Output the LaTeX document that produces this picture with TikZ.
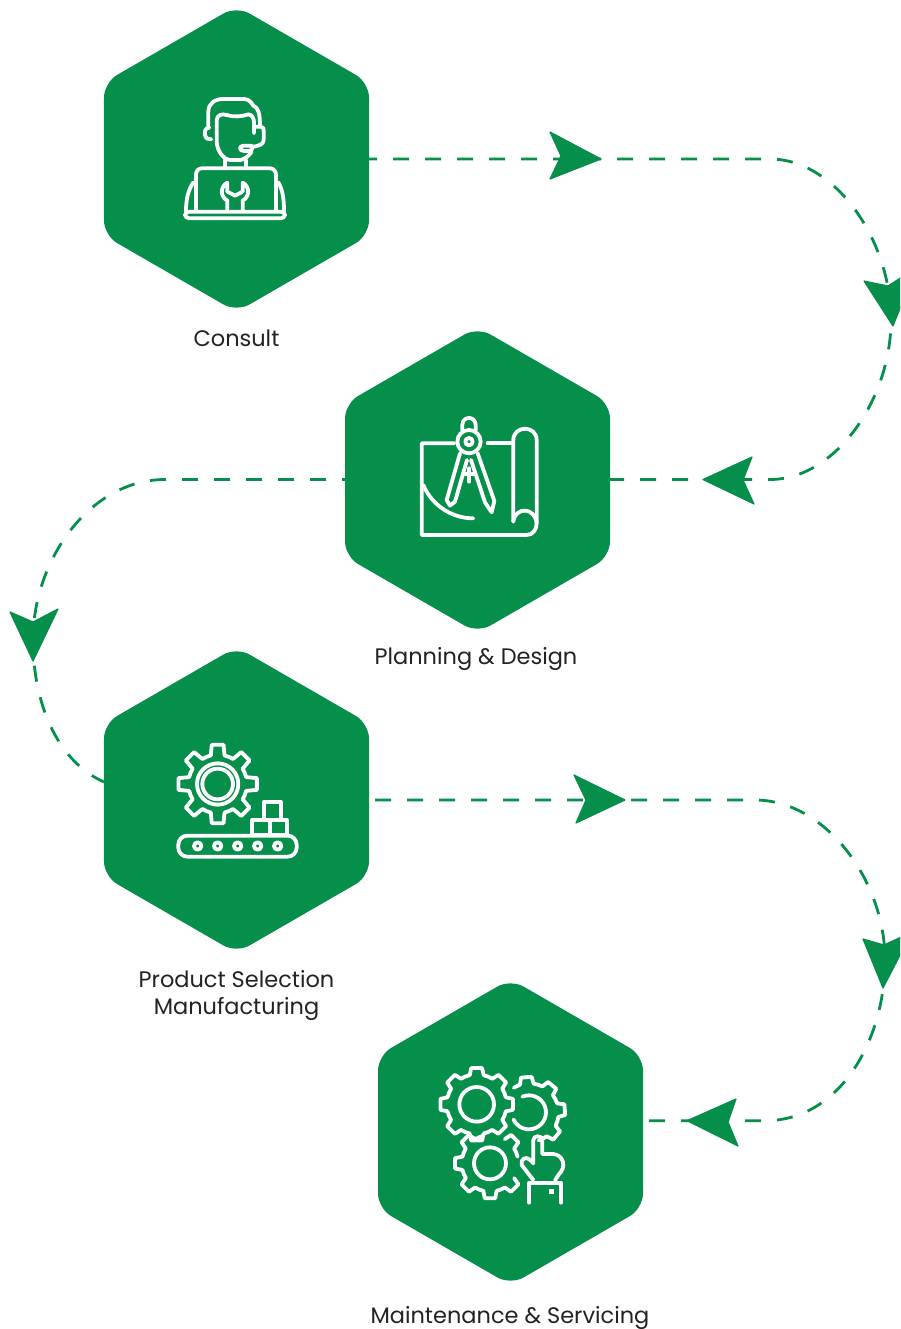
\documentclass[tikz,border=0pt]{standalone}
\usepackage{fontspec}
\setmainfont{Poppins}
\usetikzlibrary{shapes.geometric}
\definecolor{brand}{RGB}{6,142,75}
\definecolor{ink}{RGB}{34,34,34}
\tikzset{
  hexbox/.style={regular polygon,regular polygon sides=6,shape border rotate=30,fill=brand,draw=none,
    minimum size=306pt,inner sep=0pt,outer sep=0pt,rounded corners=15pt},
  flow/.style={draw=brand,line width=2.8pt,dash pattern=on 16pt off 16pt},
  headtip/.style={fill=brand,draw=brand,line width=1.2pt,line join=round},
  icon/.style={draw=white,line width=3.8pt,line cap=round,line join=round},
  caption/.style={text=ink,font=\fontsize{22.45}{27}\selectfont,align=center,inner sep=0pt}
}
\newcommand{\gearteeth}[7]{% cx cy rin rout period start list
  \foreach \i in {#7}{
    \pgfmathsetmacro{\ang}{#6+\i*#5}
    \pgfmathsetmacro{\ba}{\ang-0.30*#5}
    \pgfmathsetmacro{\ta}{\ang-0.19*#5}
    \pgfmathsetmacro{\tb}{\ang+0.19*#5}
    \pgfmathsetmacro{\bb}{\ang+0.30*#5}
    \pgfmathsetmacro{\nx}{\ang+0.70*#5}
    \draw[icon,shift={(#1,#2)}] (\ba:#3) -- (\ta:#4) -- (\tb:#4) -- (\bb:#3) arc (\bb:\nx:#3);
  }
}
\begin{document}
\begin{tikzpicture}[x=1pt,y=-1pt]
\useasboundingbox (0,0) rectangle (900,1329);
\clip (0,0) rectangle (900,1329);

\node[hexbox] (h1) at (236.5,159) {};
\node[hexbox] (h2) at (477.5,480) {};
\node[hexbox] (h3) at (236.5,800) {};
\node[hexbox] (h4) at (510.5,1132) {};

\node[caption] (c1) at (236.5,338) {Consult};
\node[caption] (c2) at (476,659) {Planning \& Design};
\node[caption] (c3) at (236.5,995.5) {Product Selection\\Manufacturing};
\node[caption] (c4) at (510,1318) {Maintenance \& Servicing};

\coordinate (a1) at (770,159);
\coordinate (b1) at (891,320);
\coordinate (d1) at (770,479.5);
\coordinate (a2) at (165,479.5);
\coordinate (b2) at (33,640);
\coordinate (d2) at (104,782);
\coordinate (a3) at (755,800);
\coordinate (b3) at (885,960);
\coordinate (d3) at (765,1120.7);
\coordinate (e1) at (h2.east |- d1);
\coordinate (w2) at (h2.west |- a2);
\coordinate (e3) at (h4.east |- d3);
\coordinate (s3) at (h3.east |- a3);
\coordinate (s1) at (h1.east |- a1);

\draw[flow,dash phase=8pt] (s1) -- (a1) .. controls (835,159) and (891,240) .. (b1);
\draw[flow,dash phase=2pt] (e1) -- (d1) .. controls (835,479.5) and (891,400) .. (b1);
\draw[flow,dash phase=13pt] (w2) -- (a2) .. controls (90,479.5) and (33,560) .. (b2)
  .. controls (33,700) and (55,760) .. (d2);
\draw[flow,shorten <=6pt] (s3) -- (a3) .. controls (825,800) and (885,880) .. (b3);
\draw[flow,shorten <=6pt] (e3) -- (d3) .. controls (840,1120.7) and (885,1040) .. (b3);

% arrowheads
\path[headtip] (601,159) -- (550,132) -- (561,156) -- (550,179) -- cycle;
\path[headtip] (893,326) -- (864,281) -- (888,286) -- (916,268) -- cycle;
\path[headtip] (703,479.5) -- (752,457) -- (743,480) -- (754,504) -- cycle;
\path[headtip] (33,661) -- (10,612) -- (33,622) -- (58,609) -- cycle;
\path[headtip] (625,800) -- (574,775) -- (586,800) -- (576,823) -- cycle;
\path[headtip] (883,988) -- (863,939) -- (884,945) -- (912,932) -- cycle;
\path[headtip] (687,1120.7) -- (736,1099) -- (728,1122) -- (738,1146) -- cycle;

% icon 1 : headset and laptop
\begin{scope}[shift={(170,85)},x=0.3333pt,y=-0.3333pt]
  \draw[icon] (115,125) -- (115,80) .. controls (115,55) and (135,42) .. (160,42) -- (222,42)
     .. controls (238,42) and (245,55) .. (250,62) .. controls (265,68) and (270,85) .. (270,125);
  \draw[icon] (140,125) -- (140,105) .. controls (142,90) and (155,85) .. (170,90)
     .. controls (190,97) and (215,95) .. (235,88) .. controls (245,88) and (252,100) .. (252,112) -- (252,145);
  \draw[icon] (140,125) -- (140,170) .. controls (142,200) and (160,222) .. (180,225) -- (212,225)
     .. controls (225,222) and (238,212) .. (245,200);
  \draw[icon] (165,226) -- (165,248);
  \draw[icon] (228,226) -- (228,248);
  \draw[icon] (118,128) .. controls (105,128) and (103,140) .. (105,150) .. controls (107,160) and (115,165) .. (124,163);
  \draw[icon] (255,125) -- (272,125) .. controls (280,125) and (281,130) .. (281,140) -- (281,165)
     .. controls (280,178) and (270,182) .. (245,186);
  \draw[icon] (222,182) -- (245,182) .. controls (250,190) and (245,198) .. (235,198) -- (222,198)
     .. controls (206,198) and (206,182) .. (222,182);
  \draw[icon] (78,378) -- (78,270) .. controls (78,258) and (85,250) .. (95,250) -- (300,250)
     .. controls (310,250) and (318,258) .. (318,270) -- (318,378);
  \draw[icon,rounded corners=4pt] (45,380) rectangle (345,400);
  \draw[icon] (70,292) .. controls (55,315) and (48,340) .. (48,380);
  \draw[icon] (325,292) .. controls (338,315) and (342,340) .. (342,380);
  \draw[icon] (172,378) -- (172,347) .. controls (150,335) and (150,305) .. (172,293) -- (172,320)
     -- (195,332) -- (218,320) -- (218,293) .. controls (240,305) and (240,335) .. (218,347) -- (218,378);
\end{scope}

% icon 2 : plan and compass
\begin{scope}[shift={(405,405)},x=0.3333pt,y=-0.3333pt]
  \draw[icon] (148,115) -- (50,115) -- (50,390) -- (365,390) .. controls (385,390) and (395,372) .. (395,355)
     -- (395,105) .. controls (395,60) and (325,60) .. (325,105) -- (325,350);
  \draw[icon] (325,350) .. controls (330,305) and (390,305) .. (395,355);
  \draw[icon] (248,115) -- (325,115);
  \draw[icon] (192,110) circle (35);
  \draw[icon] (192,110) circle (11);
  \draw[icon] (172,76) -- (172,60) .. controls (172,32) and (212,32) .. (212,60) -- (212,76);
  \draw[icon] (165,145) -- (125,285) -- (135,302) -- (150,290) -- (186,165);
  \draw[icon] (218,145) -- (268,288) -- (260,322) -- (240,292) -- (198,165);
  \draw[icon] (192,190) -- (192,230);
  \draw[icon] (175,208) -- (210,208);
  \draw[icon] (55,240) .. controls (75,290) and (130,340) .. (205,340);
\end{scope}

% icon 3 : gear and conveyor
\begin{scope}[shift={(165,735)},x=0.3333pt,y=-0.3333pt]
  \gearteeth{158}{147}{88}{119}{45}{-90}{0,1,2,3,4,5,6,7}
  \draw[icon] (158,147) circle (62);
  \draw[icon] (158,147) circle (46);
  \draw[icon,rounded corners=9pt] (40,302) rectangle (395,365);
  \foreach \cx in {98,158,218,278,338}{\draw[icon] (\cx,333) circle (11);}
  \draw[icon] (262,300) rectangle (315,255);
  \draw[icon] (315,300) rectangle (365,255);
  \draw[icon] (298,255) rectangle (348,200);
\end{scope}

% icon 4 : three gears and hand
\begin{scope}[shift={(430,1060)},x=0.3333pt,y=-0.3333pt]
  \gearteeth{140}{133}{90}{110}{45}{-90}{0,1,2,3,4,5,6,7}
  \draw[icon] (140,133) circle (52);
  \gearteeth{298}{158}{88}{108}{45}{-95}{0,1,2,3}
  \draw[icon,shift={(298,158)}] (-122:88) arc (-122:-109:88);
  \draw[icon] (277,110) arc (-113:155:51);
  \gearteeth{180}{310}{85}{106}{45}{-90}{1,3,4,5,6,7}
  \draw[icon] (180,310) circle (48);
  \draw[icon] (298,428) -- (298,368) -- (393,368) -- (393,428);
  \fill[white] (358,388) rectangle (372,402);
  \draw[icon] (310,360) -- (275,315) .. controls (270,298) and (288,288) .. (298,298) -- (310,310) -- (310,240)
     .. controls (310,225) and (337,225) .. (337,240) -- (337,282) -- (370,282)
     .. controls (400,285) and (412,320) .. (385,345) -- (375,362);
\end{scope}
\end{tikzpicture}
\end{document}
